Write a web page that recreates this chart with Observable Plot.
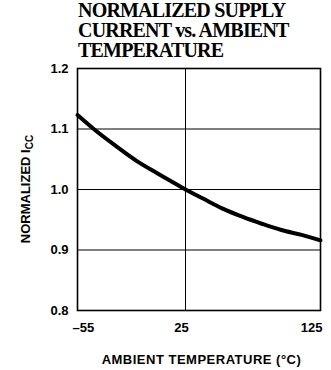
<!DOCTYPE html>
<html>
<head>
<meta charset="utf-8">
<script src="https://cdn.jsdelivr.net/npm/d3@7"></script>
<script src="https://cdn.jsdelivr.net/npm/@observablehq/plot@0.6"></script>
<style>
  html, body { margin: 0; padding: 0; background: #fff; }
  #wrap { width: 331px; height: 370px; position: relative; overflow: hidden; }
  #title {
    height: 60px; padding-left: 78px; box-sizing: border-box;
    font-family: "Liberation Serif", "Times New Roman", serif;
    font-weight: bold; font-size: 20px; line-height: 20px; letter-spacing: -0.8px;
    color: #000;
  }
  svg { display: block; }
</style>
</head>
<body>
<div id="wrap">
  <div id="title">NORMALIZED SUPPLY<br>CURRENT vs. AMBIENT<br>TEMPERATURE</div>
  <div id="chart"></div>
</div>
<script>
// Data
const temps = [-55, -43, -26, -11, 4, 19.5, 25, 38, 53, 67, 82, 96, 111, 125];
const icc   = [1.123, 1.1, 1.071, 1.047, 1.027, 1.007, 1.0, 0.985, 0.968, 0.955, 0.943, 0.933, 0.925, 0.916];
const xTicks = [-55, 25, 125];
const yTicks = [0.8, 0.9, 1.0, 1.1, 1.2];
const yGrid = [0.9, 1.0, 1.1];
const xGrid = [25];
const xTitle = "AMBIENT TEMPERATURE (°C)";
const yTitleMain = "NORMALIZED I";
const yTitleSub = "CC";

const data = temps.map((t, i) => ({temp: t, icc: icc[i]}));

const axisCommon = {tickSize: 0, tickPadding: 12, fontSize: 13, fontWeight: "bold", label: null,
  tickFormat: d => d < 0 ? "–" + Math.abs(d) : String(d)};

const plot = Plot.plot({
  width: 331,
  height: 310,
  marginTop: 8,
  marginBottom: 60,
  marginLeft: 77,
  marginRight: 11,
  style: {fontFamily: "'Liberation Sans', Arial, sans-serif", fontSize: "13px", color: "#000", background: "#fff"},
  x: {domain: [-55, 125], label: null},
  y: {domain: [0.8, 1.2], label: null},
  marks: [
    Plot.ruleY(yGrid, {stroke: "#000", strokeWidth: 1}),
    Plot.ruleX(xGrid, {stroke: "#000", strokeWidth: 1}),
    Plot.frame({stroke: "#000", strokeWidth: 1.6}),
    Plot.line(data, {x: "temp", y: "icc", stroke: "#000", strokeWidth: 4, curve: "monotone-x"}),
    Plot.axisY(yTicks, {tickSize: 0, tickPadding: 9, fontSize: 13, fontWeight: "bold", label: null, tickFormat: d3.format(".1f")}),
    Plot.axisX(xTicks.slice(0, 1), {...axisCommon, textAnchor: "start", dx: -5}),
    Plot.axisX(xTicks.slice(1, 2), {...axisCommon, dx: -4}),
    Plot.axisX(xTicks.slice(2), {...axisCommon, textAnchor: "end", dx: 2})
  ]
});

document.getElementById("chart").appendChild(plot);

const svg = d3.select(plot);
// x-axis title
svg.append("text")
  .attr("x", 201.5).attr("y", 304)
  .attr("text-anchor", "middle")
  .attr("font-family", "'Liberation Sans', Arial, sans-serif")
  .attr("font-size", 13)
  .attr("font-weight", "bold")
  .attr("letter-spacing", 0.5)
  .attr("fill", "#000")
  .text(xTitle);
// y-axis title with subscript
const yt = svg.append("text")
  .attr("transform", "translate(30,129) rotate(-90)")
  .attr("text-anchor", "middle")
  .attr("font-family", "'Liberation Sans', Arial, sans-serif")
  .attr("font-size", 13)
  .attr("font-weight", "bold")
  .attr("fill", "#000");
yt.append("tspan").text(yTitleMain);
yt.append("tspan").attr("dy", 3).attr("font-size", 10).text(yTitleSub);
</script>
</body>
</html>
